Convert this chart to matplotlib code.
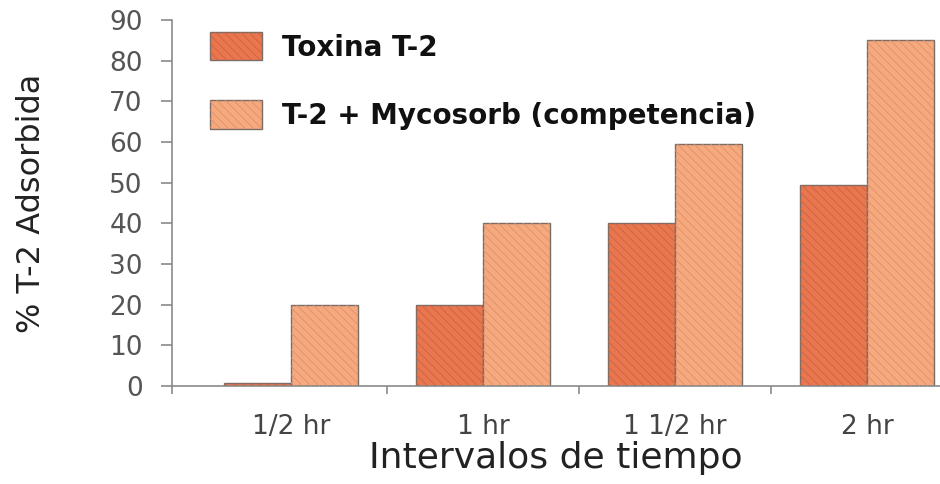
import numpy as np
import matplotlib.pyplot as plt
from matplotlib.legend_handler import HandlerTuple

# ---------- data ----------
intervals = ["1/2 hr", "1 hr", "1 1/2 hr", "2 hr"]
toxina = [0.8, 20, 40, 49.5]
mycosorb = [20, 40, 59.5, 85]
series_names = ["Toxina T-2", "T-2 + Mycosorb (competencia)"]

face_colors = ["#e8774f", "#f5a97f"]
hatch_colors = ["#d2603c", "#e48e66"]
edge_col = "#7a6c66"
grey = "#555555"

plt.rcParams["hatch.linewidth"] = 0.6

fig = plt.figure(figsize=(9.4, 4.84), dpi=100)
ax = fig.add_axes([0.183, 0.2025, 0.817, 0.756])

x = np.arange(len(intervals))
w = 0.35

handles = []
for vals, off, fc, hc in zip([toxina, mycosorb], [-w / 2, w / 2], face_colors, hatch_colors):
    b1 = ax.bar(x + off, vals, w, color=fc, edgecolor=edge_col, linewidth=1.0, zorder=2)
    b2 = ax.bar(x + off, vals, w, fill=False, hatch="\\\\\\\\", edgecolor=hc, linewidth=0, zorder=3)
    handles.append((b1, b2))

ax.set_xlim(-0.62, 3.38)
ax.set_ylim(0, 90)

# spines
for s in ["top", "right"]:
    ax.spines[s].set_visible(False)
for s in ["left", "bottom"]:
    ax.spines[s].set_color("#8a8a8a")
    ax.spines[s].set_linewidth(1.2)

# y ticks
ax.set_yticks(range(0, 91, 10))
ax.tick_params(axis="y", direction="out", length=8, width=1.2, color="#8a8a8a",
               labelsize=19, labelcolor=grey, pad=13)

# x ticks: separators as major ticks, group labels as minor ticks
ax.set_xticks([-0.62, 0.5, 1.5, 2.5])
ax.set_xticklabels([])
ax.tick_params(axis="x", which="major", direction="out", length=6, width=1.2, color="#8a8a8a")
ax.set_xticks(x, minor=True)
ax.set_xticklabels(intervals, minor=True)
ax.tick_params(axis="x", which="minor", length=0, labelsize=19, labelcolor="#444444", pad=20)

ax.set_ylabel("% T-2 Adsorbida", fontsize=23, color="#222222")
ax.yaxis.set_label_coords(-0.163, 0.5)
ax.set_xlabel("Intervalos de tiempo", fontsize=26, color="#222222", labelpad=1)

leg = ax.legend(handles, series_names, handler_map={tuple: HandlerTuple(ndivide=1, pad=0)},
                loc="upper left", bbox_to_anchor=(0.223, 0.934), bbox_transform=fig.transFigure,
                frameon=False, prop={"size": 20, "weight": "bold"}, handlelength=1.87,
                handleheight=1.2, handletextpad=0.75, labelspacing=1.4, borderpad=0,
                borderaxespad=0)
for t in leg.get_texts():
    t.set_color("#111111")

fig.savefig("out.png", dpi=100)
